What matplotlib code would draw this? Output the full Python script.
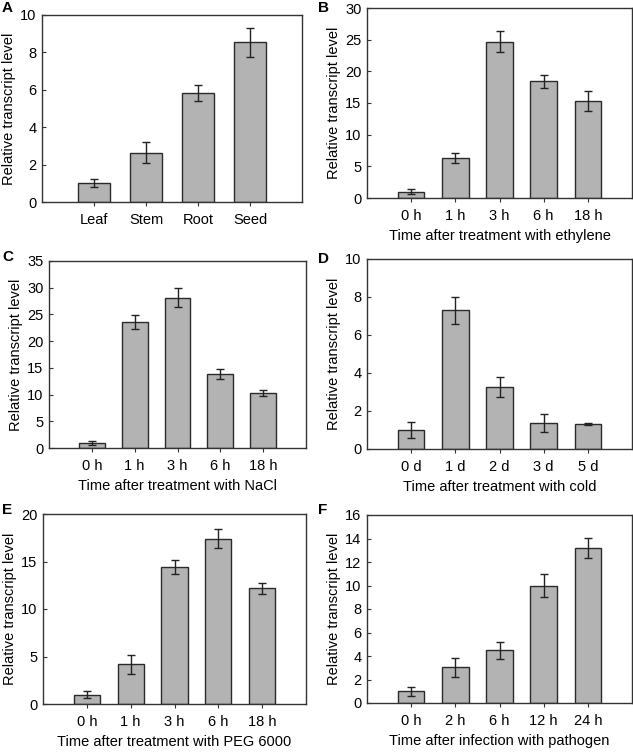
import matplotlib.pyplot as plt
import numpy as np

plt.rcParams['font.family'] = ['Liberation Sans', 'DejaVu Sans']

# panel A - tissues
tissues = ['Leaf', 'Stem', 'Root', 'Seed']
tissue_val = [1.0, 2.63, 5.84, 8.53]
tissue_err = [0.22, 0.56, 0.44, 0.8]

# panel B - ethylene
eth_labels = ['0 h', '1 h', '3 h', '6 h', '18 h']
eth_val = [1.0, 6.3, 24.7, 18.4, 15.3]
eth_err = [0.35, 0.77, 1.7, 1.0, 1.55]

# panel C - NaCl
nacl_labels = ['0 h', '1 h', '3 h', '6 h', '18 h']
nacl_val = [1.0, 23.6, 28.15, 13.9, 10.3]
nacl_err = [0.4, 1.25, 1.85, 0.95, 0.55]

# panel D - cold
cold_labels = ['0 d', '1 d', '2 d', '3 d', '5 d']
cold_val = [1.02, 7.3, 3.28, 1.39, 1.32]
cold_err = [0.42, 0.72, 0.53, 0.47, 0.07]

# panel E - PEG
peg_labels = ['0 h', '1 h', '3 h', '6 h', '18 h']
peg_val = [1.0, 4.2, 14.4, 17.4, 12.2]
peg_err = [0.4, 1.0, 0.75, 1.0, 0.58]

# panel F - pathogen
path_labels = ['0 h', '2 h', '6 h', '12 h', '24 h']
path_val = [1.0, 3.03, 4.48, 10.0, 13.17]
path_err = [0.4, 0.78, 0.7, 1.0, 0.85]

W, H = 633, 753
fig = plt.figure(figsize=(W / 100, H / 100), dpi=100)


def box(l, r, t, b):
    return [l / W, (H - b) / H, (r - l) / W, (b - t) / H]


def panel(rect, labels, vals, errs, ymax, ystep, xlabel, letter, lx, ly):
    ax = fig.add_axes(box(*rect))
    x = np.arange(1, len(vals) + 1)
    ax.bar(x, vals, width=0.6, color='#b3b3b3', edgecolor='#2a2a2a', linewidth=1.0)
    ax.errorbar(x, vals, yerr=errs, fmt='none', ecolor='#222222',
                elinewidth=1.0, capsize=3, capthick=1.0)
    ax.set_xlim(0, len(vals) + 1)
    ax.set_ylim(0, ymax)
    ax.set_yticks(np.arange(0, ymax + 0.01, ystep))
    ax.set_xticks(x)
    ax.set_xticklabels(labels)
    ax.tick_params(axis='y', direction='in', length=3, labelsize=10.5, pad=4, color='#333333')
    ax.tick_params(axis='x', direction='out', length=3, labelsize=10.5, pad=5, color='#333333')
    for s in ax.spines.values():
        s.set_color('#333333')
        s.set_linewidth(1.0)
    ax.set_ylabel('Relative transcript level', fontsize=10.5, labelpad=3)
    if xlabel:
        ax.set_xlabel(xlabel, fontsize=10.5, labelpad=4)
    fig.text(lx / W, 1 - ly / H, letter, fontsize=11, fontweight='bold', va='top', ha='left')
    return ax


panel((42, 302, 15, 202), tissues, tissue_val, tissue_err, 10, 2, None, 'A', 2, 1)
panel((367, 632, 8, 198), eth_labels, eth_val, eth_err, 30, 5,
      'Time after treatment with ethylene', 'B', 318, 1)
panel((49, 306, 261, 448), nacl_labels, nacl_val, nacl_err, 35, 5,
      'Time after treatment with NaCl', 'C', 2, 250)
panel((367, 632, 259, 449), cold_labels, cold_val, cold_err, 10, 2,
      'Time after treatment with cold', 'D', 318, 252)
panel((43, 306, 514, 704), peg_labels, peg_val, peg_err, 20, 5,
      'Time after treatment with PEG 6000', 'E', 2, 503)
panel((367, 632, 515, 703), path_labels, path_val, path_err, 16, 2,
      'Time after infection with pathogen', 'F', 318, 503)

fig.savefig('out.png', dpi=100)
